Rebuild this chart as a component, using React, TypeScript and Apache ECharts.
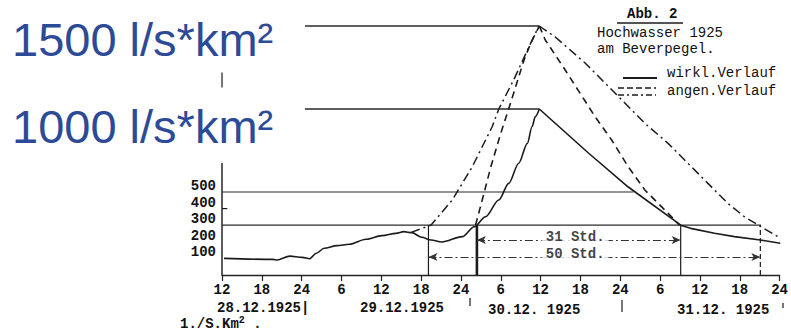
import React, { useEffect, useRef } from "react";
import * as echarts from "echarts";

// hours counted from 28.12.1925 00:00
const actualFlow: [number, number][] = [
  [12.3, 100], [19.7, 94], [20.3, 90], [22.2, 114], [24.1, 106], [25.2, 98],
  [26.2, 131], [27.4, 161], [29.3, 177], [31.2, 185], [33.7, 215], [36.1, 237],
  [38.2, 251], [39.4, 261], [40.6, 255], [42.1, 227], [43.5, 211], [45.1, 199],
  [48.2, 231], [50.0, 291], [51.7, 351], [53.7, 452], [55.2, 552], [56.7, 673],
  [58.0, 793], [58.7, 893], [59.2, 954], [59.8, 1000], [67.2, 735], [73.2, 530],
  [80.7, 313], [81.2, 298], [82.6, 281], [86.2, 251], [89.2, 231], [93.1, 211],
  [96.1, 191],
];

const assumedDashed: [number, number][] = [
  [50.2, 301], [51.2, 452], [52.5, 652], [54.0, 854], [55.5, 1040], [57.5, 1295],
  [58.5, 1396], [59.8, 1500], [60.7, 1416], [63.7, 1235], [66.5, 1060], [68.2, 954],
  [70.7, 813], [73.2, 652], [75.7, 512], [78.2, 412], [80.2, 331], [80.9, 300],
];

const assumedDashDot: [number, number][] = [
  [40.5, 257], [43.5, 301], [46.7, 452], [49.7, 652], [52.7, 893], [53.7, 1000],
  [56.0, 1180], [57.9, 1345], [59.2, 1456], [59.8, 1500], [62.2, 1434], [66.7, 1277],
  [71.2, 1096], [75.7, 914], [79.2, 793], [82.2, 673], [85.2, 552], [88.2, 432],
  [90.7, 351], [93.2, 291], [96.2, 220],
];

const yTickLabels = [100, 200, 300, 400, 500];

const referenceLevels = [1500, 1000, 500, 300];
const referenceFrom = [24.5, 24.5, 12, 12];
const referenceTo = [59.8, 59.8, 74.0, 93.2];

const markerHours = [43.1, 50.4, 81.1, 93.1, 96.3];
const markerTops = [300, 300, 300, 300, 195];

const spanLabels = ["31 Std.", "50 Std."];
const spanFrom = [50.4, 43.1];
const spanTo = [81.1, 93.1];
const spanLevel = [211, 108];
const spanLabelHour = [65.2, 65.2];
const spanLabelLevel = [228, 128];

const dateLabels = ["28.12.1925|", "29.12.1925", "30.12. 1925", "31.12. 1925"];
const blueLabels = ["1500 l/s*km²", "1000 l/s*km²"];

const INK = "#1b1b1b";
const MONO = "'Liberation Mono', 'DejaVu Sans Mono', monospace";

function splitAtPeak(data: [number, number][]) {
  let k = 0;
  data.forEach((d, i) => { if (d[1] > data[k][1]) k = i; });
  return [data.slice(0, k + 1), data.slice(k)];
}

export default function App() {
  const ref = useRef<HTMLDivElement>(null);
  useEffect(() => {
    if (!ref.current) return;
    const chart = echarts.init(ref.current, undefined, { renderer: "svg" });

    const series: any[] = [];
    series.push({
      type: "line", data: [[12, 0], [12, 675]], symbol: "none", silent: true,
      lineStyle: { color: INK, width: 1.4 }, clip: false,
    });
    series.push({
      type: "line", data: [[12, 1130], [12, 1220]], symbol: "none", silent: true,
      lineStyle: { color: INK, width: 1.2 }, clip: false,
    });
    series.push({
      type: "line", data: [[12, 400], [12.8, 400]], symbol: "none", silent: true,
      lineStyle: { color: INK, width: 1.2 }, clip: false,
    });
    referenceLevels.forEach((lv, i) => {
      series.push({
        type: "line", symbol: "none", silent: true, clip: false,
        data: [[referenceFrom[i], lv], [referenceTo[i], lv]],
        lineStyle: { color: "#2a2a2a", width: i < 2 ? 1.6 : 1.2 },
      });
    });
    markerHours.forEach((h, i) => {
      series.push({
        type: "line", symbol: "none", silent: true, clip: false,
        data: [[h, 0], [h, markerTops[i]]],
        lineStyle: {
          color: INK,
          width: i === 1 ? 2.6 : 1.2,
          type: i >= 3 ? [5, 3] : "solid",
        },
      });
    });
    const curves: [[number, number][], any, number][] = [
      [actualFlow, { color: INK, width: 1.6 }, 0.3],
      [assumedDashed, { color: INK, width: 1.6, type: [7, 5] }, 0],
      [assumedDashDot, { color: INK, width: 1.5, type: [9, 4, 2, 4] }, 0],
    ];
    curves.forEach(([data, style, sm]) => {
      const [rise, fall] = splitAtPeak(data);
      series.push({
        type: "line", data: rise, symbol: "none", silent: true, smooth: sm,
        smoothMonotone: "x", lineStyle: style,
      });
      series.push({
        type: "line", data: fall, symbol: "none", silent: true, smooth: false,
        lineStyle: style,
      });
    });
    series.push({
      type: "scatter", symbolSize: 1, silent: true,
      itemStyle: { color: "rgba(0,0,0,0)" },
      data: spanLabels.map((t, i) => [spanLabelHour[i], spanLabelLevel[i], t]),
      label: {
        show: true, position: "inside", formatter: (p: any) => p.data[2],
        backgroundColor: "#fff", padding: [0, 4], color: "#111",
        fontFamily: MONO, fontSize: 14, fontWeight: "bold",
      },
      markLine: {
        silent: true, symbol: ["arrow", "arrow"], symbolSize: [6, 9],
        label: { show: false },
        lineStyle: { color: "#333", width: 1.1, type: [8, 3, 2, 3] },
        data: spanLabels.map((_, i) => [
          { coord: [spanFrom[i], spanLevel[i]] },
          { coord: [spanTo[i], spanLevel[i]] },
        ]),
      },
      z: 5,
    });

    const txt = (text: string, x: number, y: number, extra: any = {}) => ({
      type: "text", x, y, silent: true,
      style: { text, fill: "#111", font: `14px ${MONO}`, verticalAlign: "middle", ...extra },
    });
    const ln = (x1: number, y1: number, x2: number, y2: number, extra: any = {}) => ({
      type: "line", silent: true, shape: { x1, y1, x2, y2 },
      style: { stroke: INK, lineWidth: 1.4, ...extra },
    });

    const graphic: any[] = [
      ...blueLabels.map((t, i) => ({
        type: "text", x: 12, y: i === 0 ? 39 : 126, silent: true,
        style: {
          text: t, fill: "#2D4A97", verticalAlign: "middle",
          font: "47px 'Liberation Sans', Arial, sans-serif",
        },
      })),
      txt("Abb. 2", 627, 14, { font: `bold 14px ${MONO}` }),
      ln(617, 23, 683, 23, { lineWidth: 1.3 }),
      txt("Hochwasser 1925", 597, 33),
      txt("am Beverpegel.", 597, 49),
      ln(623, 78, 657, 78, { lineWidth: 1.8 }),
      txt("wirkl.Verlauf", 667, 73),
      ln(618, 88, 656, 88, { lineDash: [6, 3] }),
      ln(618, 95, 656, 95, { lineDash: [6, 3, 2, 3] }),
      txt("angen.Verlauf", 667, 91),
      txt(dateLabels[0], 217, 308, { font: `bold 14px ${MONO}` }),
      txt(dateLabels[1], 360, 308, { font: `bold 14px ${MONO}` }),
      txt(dateLabels[2], 488, 310, { font: `bold 14px ${MONO}` }),
      txt(dateLabels[3], 677, 310, { font: `bold 14px ${MONO}` }),
      {
        type: "text", x: 180, y: 324, silent: true,
        style: {
          text: "1./S.Km{s|2} .", verticalAlign: "middle", fill: "#111",
          font: `bold 14px ${MONO}`,
          rich: { s: { fontFamily: MONO, fontSize: 10, fontWeight: "bold", verticalAlign: "top", padding: [0, 0, 8, 0] } },
        },
      },
      ln(470, 298, 470, 306, { lineWidth: 1.2 }),
      ln(622, 300, 622, 312, { lineWidth: 1.2 }),
      ln(783, 303, 783, 308, { lineWidth: 1.2 }),
    ];

    chart.setOption({
      animation: false,
      backgroundColor: "#fff",
      grid: { left: 222, right: 9, top: 26, bottom: 56, containLabel: false },
      xAxis: {
        type: "value", min: 12, max: 96, interval: 6,
        axisLine: { show: true, lineStyle: { color: "#222", width: 1.3 } },
        axisTick: { show: true, length: 6, lineStyle: { color: "#222", width: 1.2 } },
        splitLine: { show: false },
        axisLabel: {
          margin: 8, color: "#111", fontFamily: MONO, fontSize: 14, fontWeight: "bold",
          formatter: (v: number) => {
            const m = v % 24;
            return String(m === 0 ? 24 : m);
          },
        },
      },
      yAxis: {
        type: "value", min: 0, max: 1500, interval: 100,
        axisLine: { show: false }, axisTick: { show: false }, splitLine: { show: false },
        axisLabel: {
          margin: 6, color: "#111", fontFamily: MONO, fontSize: 14, fontWeight: "bold",
          verticalAlign: "bottom", lineHeight: 12,
          formatter: (v: number) => (yTickLabels.includes(v) ? String(v) : ""),
        },
      },
      series,
      graphic,
    });
    return () => chart.dispose();
  }, []);
  return (
    <div
      ref={ref}
      style={{ position: "fixed", left: 0, top: 0, width: 791, height: 331, background: "#fff" }}
    />
  );
}
